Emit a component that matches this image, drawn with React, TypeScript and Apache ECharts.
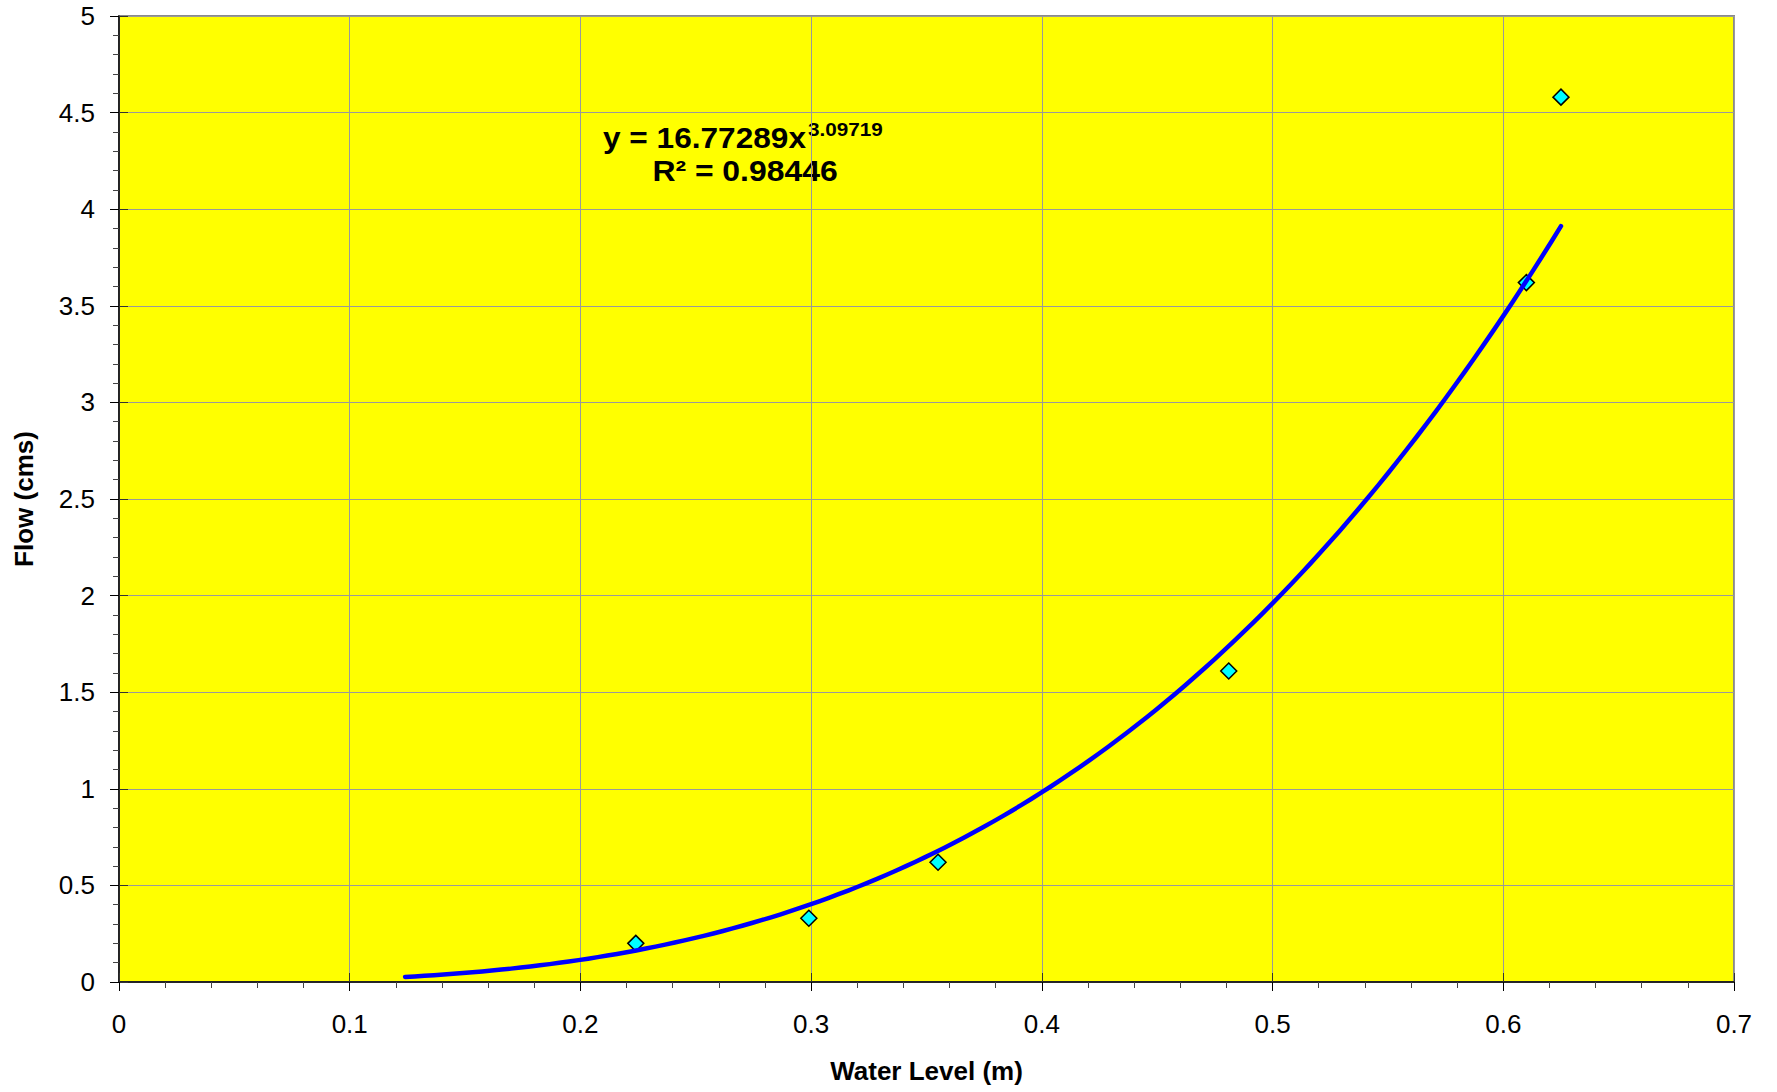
import React, { useEffect, useRef } from "react";
import * as echarts from "echarts";

// Measured rating points: water level (m) against flow (cms)
const waterLevel = [0.224, 0.299, 0.355, 0.481, 0.61, 0.625];
const flow = [0.2, 0.33, 0.62, 1.61, 3.62, 4.58];

// Power-law trendline y = a * x^b, as given in the equation label
const fitCoef = 16.77289;
const fitExp = 3.09719;
const rSquared = 0.98446;
const trendStart = 0.124;
const trendEnd = 0.625;
const trendSteps = 120;

const xTicks = { min: 0, max: 0.7, interval: 0.1 };
const yTicks = { min: 0, max: 5, interval: 0.5 };

const FONT = "'Liberation Sans', Arial, sans-serif";

function trendPoints(): number[][] {
  const pts: number[][] = [];
  for (let i = 0; i <= trendSteps; i++) {
    const x = trendStart + ((trendEnd - trendStart) * i) / trendSteps;
    pts.push([x, fitCoef * Math.pow(x, fitExp)]);
  }
  return pts;
}

export default function App() {
  const ref = useRef<HTMLDivElement>(null);

  useEffect(() => {
    if (!ref.current) return;
    const chart = echarts.init(ref.current, null, { renderer: "svg" });

    // Second axis pair that only draws the inner half of the major ticks
    const overlayAxis = {
      type: "value",
      axisLine: { show: false },
      axisLabel: { show: false },
      splitLine: { show: false },
      axisTick: { show: true, inside: true, length: 9, lineStyle: { color: "#333", width: 1 } },
    };

    chart.setOption({
      animation: false,
      backgroundColor: "#ffffff",
      grid: {
        left: 119,
        right: 43,
        top: 16,
        bottom: 110,
        show: true,
        backgroundColor: "#FFFF00",
        borderColor: "#8a8a8a",
        borderWidth: 2,
      },
      xAxis: [
        {
          type: "value",
          ...xTicks,
          position: "bottom",
          name: "Water Level (m)",
          nameLocation: "middle",
          nameGap: 76,
          nameTextStyle: { fontFamily: FONT, fontSize: 26, fontWeight: "bold", color: "#000" },
          axisLine: { show: true, onZero: false, lineStyle: { color: "#000", width: 1.5 } },
          axisTick: { show: true, inside: false, length: 9, lineStyle: { color: "#000", width: 1 } },
          minorTick: { show: true, splitNumber: 5, length: 6, lineStyle: { color: "#444", width: 1 } },
          splitLine: { show: true, lineStyle: { color: "#9a9a9a", width: 1 } },
          axisLabel: { fontFamily: FONT, fontSize: 26, color: "#000", margin: 29 },
        },
        { ...overlayAxis, ...xTicks, position: "bottom" },
      ],
      yAxis: [
        {
          type: "value",
          ...yTicks,
          position: "left",
          name: "Flow (cms)",
          nameLocation: "middle",
          nameGap: 82,
          nameTextStyle: { fontFamily: FONT, fontSize: 26, fontWeight: "bold", color: "#000" },
          axisLine: { show: true, onZero: false, lineStyle: { color: "#000", width: 1.5 } },
          axisTick: { show: true, inside: false, length: 9, lineStyle: { color: "#000", width: 1 } },
          minorTick: { show: true, splitNumber: 5, length: 6, lineStyle: { color: "#444", width: 1 } },
          splitLine: { show: true, lineStyle: { color: "#9a9a9a", width: 1 } },
          axisLabel: { fontFamily: FONT, fontSize: 26, color: "#000", margin: 24 },
        },
        { ...overlayAxis, ...yTicks, position: "left" },
      ],
      series: [
        {
          name: "Observed",
          type: "scatter",
          xAxisIndex: 0,
          yAxisIndex: 0,
          data: waterLevel.map((x, i) => [x, flow[i]]),
          symbol: "diamond",
          symbolSize: 16,
          itemStyle: { color: "#00FFFF", borderColor: "#000", borderWidth: 1.5, opacity: 1 },
          z: 2,
        },
        {
          name: "Power trendline",
          type: "line",
          xAxisIndex: 0,
          yAxisIndex: 0,
          data: trendPoints(),
          showSymbol: false,
          symbol: "none",
          smooth: false,
          lineStyle: { color: "#0000FF", width: 4.5, cap: "round", join: "round" },
          z: 3,
        },
      ],
      graphic: [
        {
          type: "group",
          z: 100,
          children: [
            {
              type: "rect",
              shape: { x: 595, y: 106, width: 300, height: 89 },
              style: { fill: "#FFFF00" },
            },
            {
              type: "text",
              x: 806,
              y: 138,
              scaleX: 1.09,
              style: {
                text: "y = " + fitCoef.toFixed(5) + "x",
                font: `bold 29px ${FONT}`,
                fill: "#000",
                align: "right",
                verticalAlign: "middle",
              },
            },
            {
              type: "text",
              x: 808,
              y: 130,
              scaleX: 1.15,
              style: {
                text: fitExp.toFixed(5),
                font: `bold 18px ${FONT}`,
                fill: "#000",
                align: "left",
                verticalAlign: "middle",
              },
            },
            {
              type: "text",
              x: 745,
              y: 171,
              scaleX: 1.1,
              style: {
                text: "R² = " + rSquared.toFixed(5),
                font: `bold 29px ${FONT}`,
                fill: "#000",
                align: "center",
                verticalAlign: "middle",
              },
            },
          ],
        },
      ],
    });

    return () => chart.dispose();
  }, []);

  return (
    <div
      ref={ref}
      style={{ position: "fixed", left: 0, top: 0, width: 1777, height: 1092 }}
    />
  );
}
